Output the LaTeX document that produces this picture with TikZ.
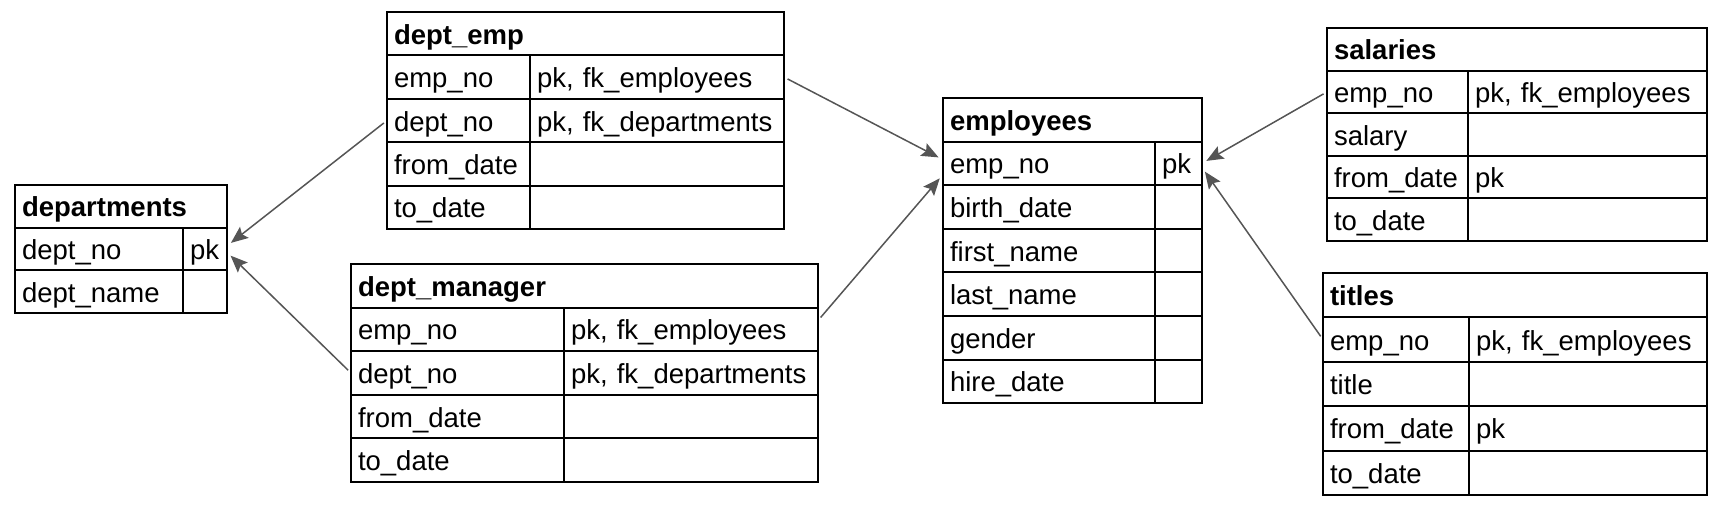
\documentclass[tikz,border=0pt]{standalone}
\usepackage{fontspec}
\setmainfont{Liberation Sans}
\usetikzlibrary{arrows.meta}
\definecolor{linkgray}{HTML}{555555}
\begin{document}
\begin{tikzpicture}[x=1pt,y=-1pt,
    font=\fontsize{27.5}{31}\selectfont,
    cell/.style={draw, line width=2pt, outer sep=0pt, anchor=north west,
      inner xsep=7pt, inner ysep=0pt, align=left, text width=#1pt-14pt,
      text height=22pt, text depth=1pt},
    head/.style={cell=#1, font=\fontsize{27.5}{31}\selectfont\bfseries},
    link/.style={draw=linkgray, line width=1.5pt,
      -{Stealth[length=17pt,width=14pt,inset=3pt]},
      shorten <=4pt, shorten >=5pt}]
  \useasboundingbox (0,0) rectangle (1718,506);
  % departments
  \path[minimum height=42.7pt]
    (15,185) node[head=212] (dp0) {departments}
    (15,227.7) node[cell=168] (dp1) {dept\_no}
    (183,227.7) node[cell=44] (dp1k) {pk}
    (15,270.4) node[cell=168] (dp2) {dept\_name}
    (183,270.4) node[cell=44] (dp2k) {};
  % dept_emp
  \path[minimum height=43.4pt]
    (387,12) node[head=397] (de0) {dept\_emp}
    (387,55.4) node[cell=143] (de1) {emp\_no}
    (530,55.4) node[cell=254] (de1k) {pk, fk\_employees}
    (387,98.8) node[cell=143] (de2) {dept\_no}
    (530,98.8) node[cell=254] (de2k) {pk, fk\_departments}
    (387,142.2) node[cell=143] (de3) {from\_date}
    (530,142.2) node[cell=254] (de3k) {}
    (387,185.6) node[cell=143] (de4) {to\_date}
    (530,185.6) node[cell=254] (de4k) {};
  % dept_manager
  \path[minimum height=43.6pt]
    (351,264) node[head=467] (dm0) {dept\_manager}
    (351,307.6) node[cell=213] (dm1) {emp\_no}
    (564,307.6) node[cell=254] (dm1k) {pk, fk\_employees}
    (351,351.2) node[cell=213] (dm2) {dept\_no}
    (564,351.2) node[cell=254] (dm2k) {pk, fk\_departments}
    (351,394.8) node[cell=213] (dm3) {from\_date}
    (564,394.8) node[cell=254] (dm3k) {}
    (351,438.4) node[cell=213] (dm4) {to\_date}
    (564,438.4) node[cell=254] (dm4k) {};
  % employees
  \path[minimum height=43.6pt]
    (943,98) node[head=259] (em0) {employees}
    (943,141.6) node[cell=212] (em1) {emp\_no}
    (1155,141.6) node[cell=47] (em1k) {pk}
    (943,185.2) node[cell=212] (em2) {birth\_date}
    (1155,185.2) node[cell=47] (em2k) {}
    (943,228.8) node[cell=212] (em3) {first\_name}
    (1155,228.8) node[cell=47] (em3k) {}
    (943,272.4) node[cell=212] (em4) {last\_name}
    (1155,272.4) node[cell=47] (em4k) {}
    (943,316) node[cell=212] (em5) {gender}
    (1155,316) node[cell=47] (em5k) {}
    (943,359.6) node[cell=212] (em6) {hire\_date}
    (1155,359.6) node[cell=47] (em6k) {};
  % salaries
  \path[minimum height=42.6pt]
    (1327,28) node[head=380] (sa0) {salaries}
    (1327,70.6) node[cell=141] (sa1) {emp\_no}
    (1468,70.6) node[cell=239] (sa1k) {pk, fk\_employees}
    (1327,113.2) node[cell=141] (sa2) {salary}
    (1468,113.2) node[cell=239] (sa2k) {}
    (1327,155.8) node[cell=141] (sa3) {from\_date}
    (1468,155.8) node[cell=239] (sa3k) {pk}
    (1327,198.4) node[cell=141] (sa4) {to\_date}
    (1468,198.4) node[cell=239] (sa4k) {};
  % titles
  \path[minimum height=44.4pt]
    (1323,273) node[head=384] (ti0) {titles}
    (1323,317.4) node[cell=146] (ti1) {emp\_no}
    (1469,317.4) node[cell=238] (ti1k) {pk, fk\_employees}
    (1323,361.8) node[cell=146] (ti2) {title}
    (1469,361.8) node[cell=238] (ti2k) {}
    (1323,406.2) node[cell=146] (ti3) {from\_date}
    (1469,406.2) node[cell=238] (ti3k) {pk}
    (1323,450.6) node[cell=146] (ti4) {to\_date}
    (1469,450.6) node[cell=238] (ti4k) {};
  \begin{scope}[link]
    \draw (de2.west) to (dp1k.8);
    \draw (dm2.west) to (dp1k.-8);
    \draw (de1k.east) to (em1.178);
    \draw (dm1k.4) to (em1.186);
    \draw (sa1.west) to (em1k.east);
    \draw (ti1.west) to (em1k.-10);
  \end{scope}
\end{tikzpicture}
\end{document}
